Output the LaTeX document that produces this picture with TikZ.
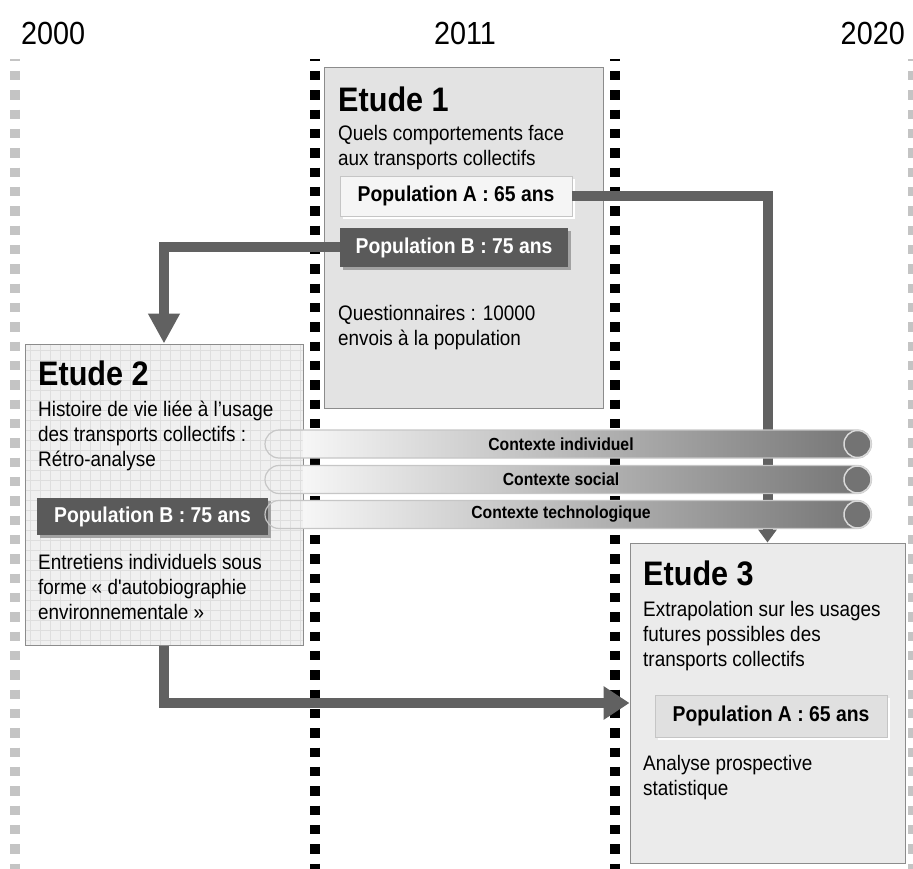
\documentclass[tikz,border=0pt]{standalone}
\usepackage{fontspec}
\setmainfont{Liberation Sans}[FakeStretch=0.9, Ligatures=TeXOff]
\usetikzlibrary{arrows.meta,shadows}

\definecolor{flowgray}{HTML}{616161}
\definecolor{popdark}{HTML}{5A5A5A}
\definecolor{popshade}{HTML}{A2A2A2}
\definecolor{boxline}{HTML}{8C8C8C}
\definecolor{lightdash}{HTML}{C4C4C4}
\definecolor{ctxedge}{HTML}{C6C6C6}
\definecolor{barend}{HTML}{737373}
\definecolor{gridgray}{HTML}{DEDEDE}

\tikzset{
  yeardash/.style={line width=9.5pt, dash pattern=on 9.5pt off 9.83pt, dash phase=7.33pt},
  etudebox/.style={draw=boxline, line width=1pt, inner sep=0pt},
  etudetitle/.style={font=\fontsize{34}{40}\selectfont\bfseries, anchor=base west, inner sep=0pt},
  etudetext/.style={font=\fontsize{21}{25}\selectfont, anchor=base west, inner sep=0pt, align=left},
  popbox/.style={font=\fontsize{21.5}{25}\selectfont\bfseries, inner sep=0pt},
  poplight/.style={popbox, draw=boxline!50, line width=0.8pt, drop shadow={shadow xshift=3pt, shadow yshift=-3pt, fill=white, opacity=1}},
  popdarkbox/.style={popbox, fill=popdark, text=white, drop shadow={shadow xshift=3pt, shadow yshift=-3pt, fill=popshade, opacity=1}},
  flow/.style={draw=flowgray, line width=10pt},
  ctxlabel/.style={font=\fontsize{17.5}{20}\selectfont\bfseries, inner sep=0pt},
  yearlabel/.style={font=\fontsize{32}{36}\selectfont, inner sep=0pt}
}

\begin{document}
\begin{tikzpicture}[x=1pt, y=-1pt]
    \useasboundingbox (0,0) rectangle (913,869);

    \node[yearlabel, anchor=base west] (y2000) at (21,45) {2000};
    \node[yearlabel, anchor=base] (y2011) at (465,45) {2011};
    \node[yearlabel, anchor=base east] (y2020) at (905,45) {2020};

    \draw[yeardash, lightdash] (15,59) -- (15,875);
    \draw[yeardash, black] (315,59) -- (315,875);
    \draw[yeardash, black] (615,59) -- (615,875);
    \draw[yeardash, lightdash] (913,59) -- (913,875);

    \node[etudebox, fill=black!11, minimum width=279pt, minimum height=340pt] (etude1) at (463.5,238) {};
    \node[etudebox, fill=black!6, minimum width=278pt, minimum height=301pt] (etude2) at (164,494.5) {};
    \begin{scope}
        \clip (25.5,344.5) rectangle (302.5,644.5);
        \draw[gridgray, line width=0.5pt, step=10pt] (20,340) grid (310,650);
    \end{scope}
    \node[etudebox] (etude2) at (164,494.5) [minimum width=278pt, minimum height=301pt] {};
    \node[etudebox, fill=black!8, minimum width=275pt, minimum height=320pt] (etude3) at (767.5,703) {};

    \node[etudetitle] (title1) at (338,112) {Etude 1};
    \node[etudetext] (quest1) at (338,166) {Quels comportements face\\aux transports collectifs};
    \node[poplight, fill=black!4, minimum width=232pt, minimum height=40pt] (popA1) at (456,196) {Population A : 65 ans};
    \node[popdarkbox, minimum width=228pt, minimum height=39pt] (popB1) at (454,247.5) {Population B : 75 ans};
    \node[etudetext] (method1) at (338,345) {Questionnaires : 10000\\envois à la population};

    \node[etudetitle] (title2) at (38,385) {Etude 2};
    \node[etudetext] (quest2) at (38,466) {Histoire de vie liée à l’usage\\des transports collectifs :\\Rétro-analyse};
    \node[popdarkbox, minimum width=231pt, minimum height=37pt] (popB2) at (152.5,516.5) {Population B : 75 ans};
    \node[etudetext] (method2) at (38,619) {Entretiens individuels sous\\forme « d'autobiographie\\environnementale »};

    \node[etudetitle] (title3) at (643,585) {Etude 3};
    \node[etudetext] (quest3) at (643,666) {Extrapolation sur les usages\\futures possibles des\\transports collectifs};
    \node[poplight, fill=black!12, minimum width=232pt, minimum height=42pt] (popA3) at (771,716) {Population A : 65 ans};
    \node[etudetext] (method3) at (643,795) {Analyse prospective\\statistique};

    \draw[flow, -{Triangle[length=30pt, width=30pt]}] (popB1.west) -| (etude2.north);
    \draw[flow, -{Triangle[length=13pt, width=18pt]}] (popA1.east) -| (etude3.north);
    \draw[flow, -{Triangle[length=26pt, width=32pt]}] (etude2.south) |- (etude3.west);

    \foreach \yc/\txt/\nm in {444/Contexte individuel/ctxind, 479.5/Contexte social/ctxsoc, 514.5/Contexte technologique/ctxtech} {
        \begin{scope}
            \clip (303,\yc-15) rectangle (880,\yc+15);
            \shade[left color=white, right color=barend, rounded corners=14pt] (265,\yc-14) rectangle (871.5,\yc+14);
        \end{scope}
        \draw[ctxedge, line width=1.2pt, rounded corners=14pt] (265,\yc-14) rectangle (871.5,\yc+14);
        \draw[black!15, line width=1.5pt, fill=barend] (857.5,\yc) circle (13.5pt);
        \node[ctxlabel] (\nm) at (561,\yc) {\txt};
    }
\end{tikzpicture}
\end{document}
